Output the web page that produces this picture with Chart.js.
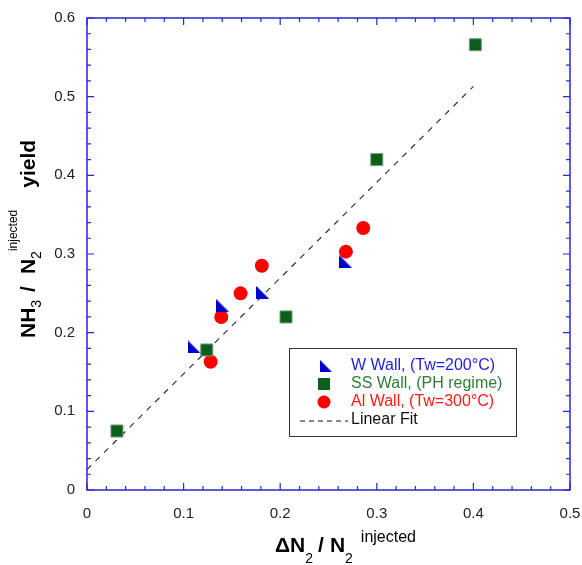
<!DOCTYPE html>
<html>
<head>
<meta charset="utf-8">
<title>NH3 yield</title>
<script src="https://cdn.jsdelivr.net/npm/chart.js@4.4.1/dist/chart.umd.min.js"></script>
<style>
  html, body { margin: 0; padding: 0; background: #fff; }
  #wrap { width: 582px; height: 565px; }
</style>
</head>
<body>
<div id="wrap"><canvas id="c" width="582" height="565"></canvas></div>
<script>
// data
const wWallX = [0.111, 0.140, 0.182, 0.268];
const wWallY = [0.182, 0.235, 0.251, 0.290];
const ssWallX = [0.031, 0.124, 0.206, 0.300, 0.402];
const ssWallY = [0.075, 0.178, 0.220, 0.420, 0.566];
const alWallX = [0.128, 0.139, 0.159, 0.181, 0.268, 0.286];
const alWallY = [0.163, 0.220, 0.250, 0.285, 0.303, 0.333];
const fitX = [0, 0.4];
const fitY = [0.026, 0.513];
const xTicks = [0, 0.1, 0.2, 0.3, 0.4, 0.5];
const yTicks = [0, 0.1, 0.2, 0.3, 0.4, 0.5, 0.6];

const seriesLabels = ['W Wall, (Tw=200°C)', 'SS Wall, (PH regime)', 'Al Wall, (Tw=300°C)', 'Linear Fit'];
const axisBlue = '#2727d6';
const FONT = '"Liberation Sans", Arial, sans-serif';

const pts = (xs, ys) => xs.map((x, i) => ({ x: x, y: ys[i] }));

// right triangle marker (right angle bottom-left)
function triMarker(size, color) {
  const cv = document.createElement('canvas');
  cv.width = size; cv.height = size;
  const g = cv.getContext('2d');
  g.fillStyle = color;
  g.beginPath();
  g.moveTo(0, 0);
  g.lineTo(size, size);
  g.lineTo(0, size);
  g.closePath();
  g.fill();
  return cv;
}
const tri = triMarker(13, '#0000cc');

const frame = {
  id: 'frame',
  afterDraw(chart) {
    const ctx = chart.ctx;
    const a = chart.chartArea;
    const xs = chart.scales.x, ys = chart.scales.y;
    ctx.save();
    ctx.strokeStyle = axisBlue;
    ctx.lineWidth = 1.5;
    ctx.strokeRect(a.left, a.top, a.right - a.left, a.bottom - a.top);
    ctx.lineWidth = 1.2;
    ctx.beginPath();
    for (let i = 0; i <= 25; i++) {
      const v = i * 0.02;
      const len = i % 5 === 0 ? 7 : 4;
      const px = xs.getPixelForValue(v);
      ctx.moveTo(px, a.bottom); ctx.lineTo(px, a.bottom - len);
      ctx.moveTo(px, a.top); ctx.lineTo(px, a.top + len);
    }
    for (let i = 0; i <= 30; i++) {
      const v = i * 0.02;
      const len = i % 5 === 0 ? 7 : 4;
      const py = ys.getPixelForValue(v);
      ctx.moveTo(a.left, py); ctx.lineTo(a.left + len, py);
      ctx.moveTo(a.right, py); ctx.lineTo(a.right - len, py);
    }
    ctx.stroke();

    // legend
    const lx = 289, ly = 348, lw = 227, lh = 88;
    ctx.fillStyle = '#fff';
    ctx.fillRect(lx, ly, lw, lh);
    ctx.strokeStyle = '#333';
    ctx.lineWidth = 1;
    ctx.strokeRect(lx + 0.5, ly + 0.5, lw, lh);
    const rows = [366, 384, 402, 420];
    const textCols = ['#1e1ee0', '#2f7d32', '#ff1a1a', '#111'];
    ctx.font = '16px ' + FONT;
    ctx.textBaseline = 'middle';
    ctx.textAlign = 'left';
    rows.forEach((ry, i) => {
      ctx.fillStyle = textCols[i];
      ctx.fillText(seriesLabels[i], 351, ry);
    });
    ctx.drawImage(tri, 320, rows[0] - 6, 12, 12);
    ctx.fillStyle = '#0b5e1c';
    ctx.fillRect(318, rows[1] - 6, 12, 12);
    ctx.fillStyle = '#ff0000';
    ctx.beginPath(); ctx.arc(324, rows[2], 6.5, 0, Math.PI * 2); ctx.fill();
    ctx.strokeStyle = '#111';
    ctx.setLineDash([5, 4]);
    ctx.beginPath(); ctx.moveTo(300, rows[3] + 1); ctx.lineTo(348, rows[3] + 1); ctx.stroke();
    ctx.setLineDash([]);

    // axis titles with sub/superscripts: [text, font, baseline shift, extra gap after]
    ctx.fillStyle = '#000';
    ctx.textBaseline = 'alphabetic';
    const big = 'bold 21px ' + FONT;
    const sub = '14px ' + FONT;
    function runs(parts, x0, y0) {
      let x = x0;
      parts.forEach(p => {
        ctx.font = p[1];
        ctx.fillText(p[0], x, y0 + p[2]);
        x += ctx.measureText(p[0]).width + (p[3] || 0);
      });
    }
    runs([
      ['ΔN', big, 0], ['2', sub, 11, 5], ['/', big, 0, 6], ['N', big, 0], ['2', sub, 11, 8], ['injected', '16px ' + FONT, -10]
    ], 275, 552);

    ctx.save();
    ctx.translate(35, 338);
    ctx.rotate(-Math.PI / 2);
    runs([
      ['NH', big, 0], ['3', sub, 6, 8], ['/', big, 0, 12], ['N', big, 0], ['2', sub, 6, 0], ['injected', '12px ' + FONT, -18, 22], ['yield', big, 0]
    ], 0, 0);
    ctx.restore();
    ctx.restore();
  }
};

new Chart(document.getElementById('c'), {
  type: 'scatter',
  data: {
    datasets: [
      {
        label: seriesLabels[0],
        data: pts(wWallX, wWallY),
        pointStyle: tri,
        pointRadius: 6
      },
      {
        label: seriesLabels[1],
        data: pts(ssWallX, ssWallY),
        pointStyle: 'rect',
        pointRadius: 8.5,
        backgroundColor: '#0b5e1c',
        borderColor: '#6f9f78',
        borderWidth: 1
      },
      {
        label: seriesLabels[2],
        data: pts(alWallX, alWallY),
        pointStyle: 'circle',
        pointRadius: 7,
        backgroundColor: '#ff0000',
        borderColor: '#ff0000',
        borderWidth: 0
      },
      {
        label: seriesLabels[3],
        type: 'line',
        data: pts(fitX, fitY),
        borderColor: '#333',
        borderWidth: 1.2,
        borderDash: [6, 6],
        pointRadius: 0,
        fill: false
      }
    ]
  },
  options: {
    responsive: false,
    animation: false,
    layout: { padding: { top: 18, right: 12, left: 0, bottom: 0 } },
    plugins: { legend: { display: false }, tooltip: { enabled: false } },
    scales: {
      x: {
        type: 'linear',
        min: 0, max: 0.5,
        afterFit(s) { s.height = 75; s.paddingLeft = 0; s.paddingRight = 0; },
        afterBuildTicks(s) { s.ticks = xTicks.map(v => ({ value: v })); },
        grid: { display: false, drawTicks: false },
        border: { display: false },
        ticks: {
          padding: 15,
          color: '#222',
          font: { family: FONT, size: 15 },
          callback: v => String(v)
        }
      },
      y: {
        type: 'linear',
        min: 0, max: 0.6,
        afterFit(s) { s.width = 87; s.paddingTop = 0; s.paddingBottom = 0; },
        afterBuildTicks(s) { s.ticks = yTicks.map(v => ({ value: v })); },
        grid: { display: false, drawTicks: false },
        border: { display: false },
        ticks: {
          padding: 12,
          color: '#222',
          font: { family: FONT, size: 15 },
          callback: v => String(v)
        }
      }
    }
  },
  plugins: [frame]
});
</script>
</body>
</html>
